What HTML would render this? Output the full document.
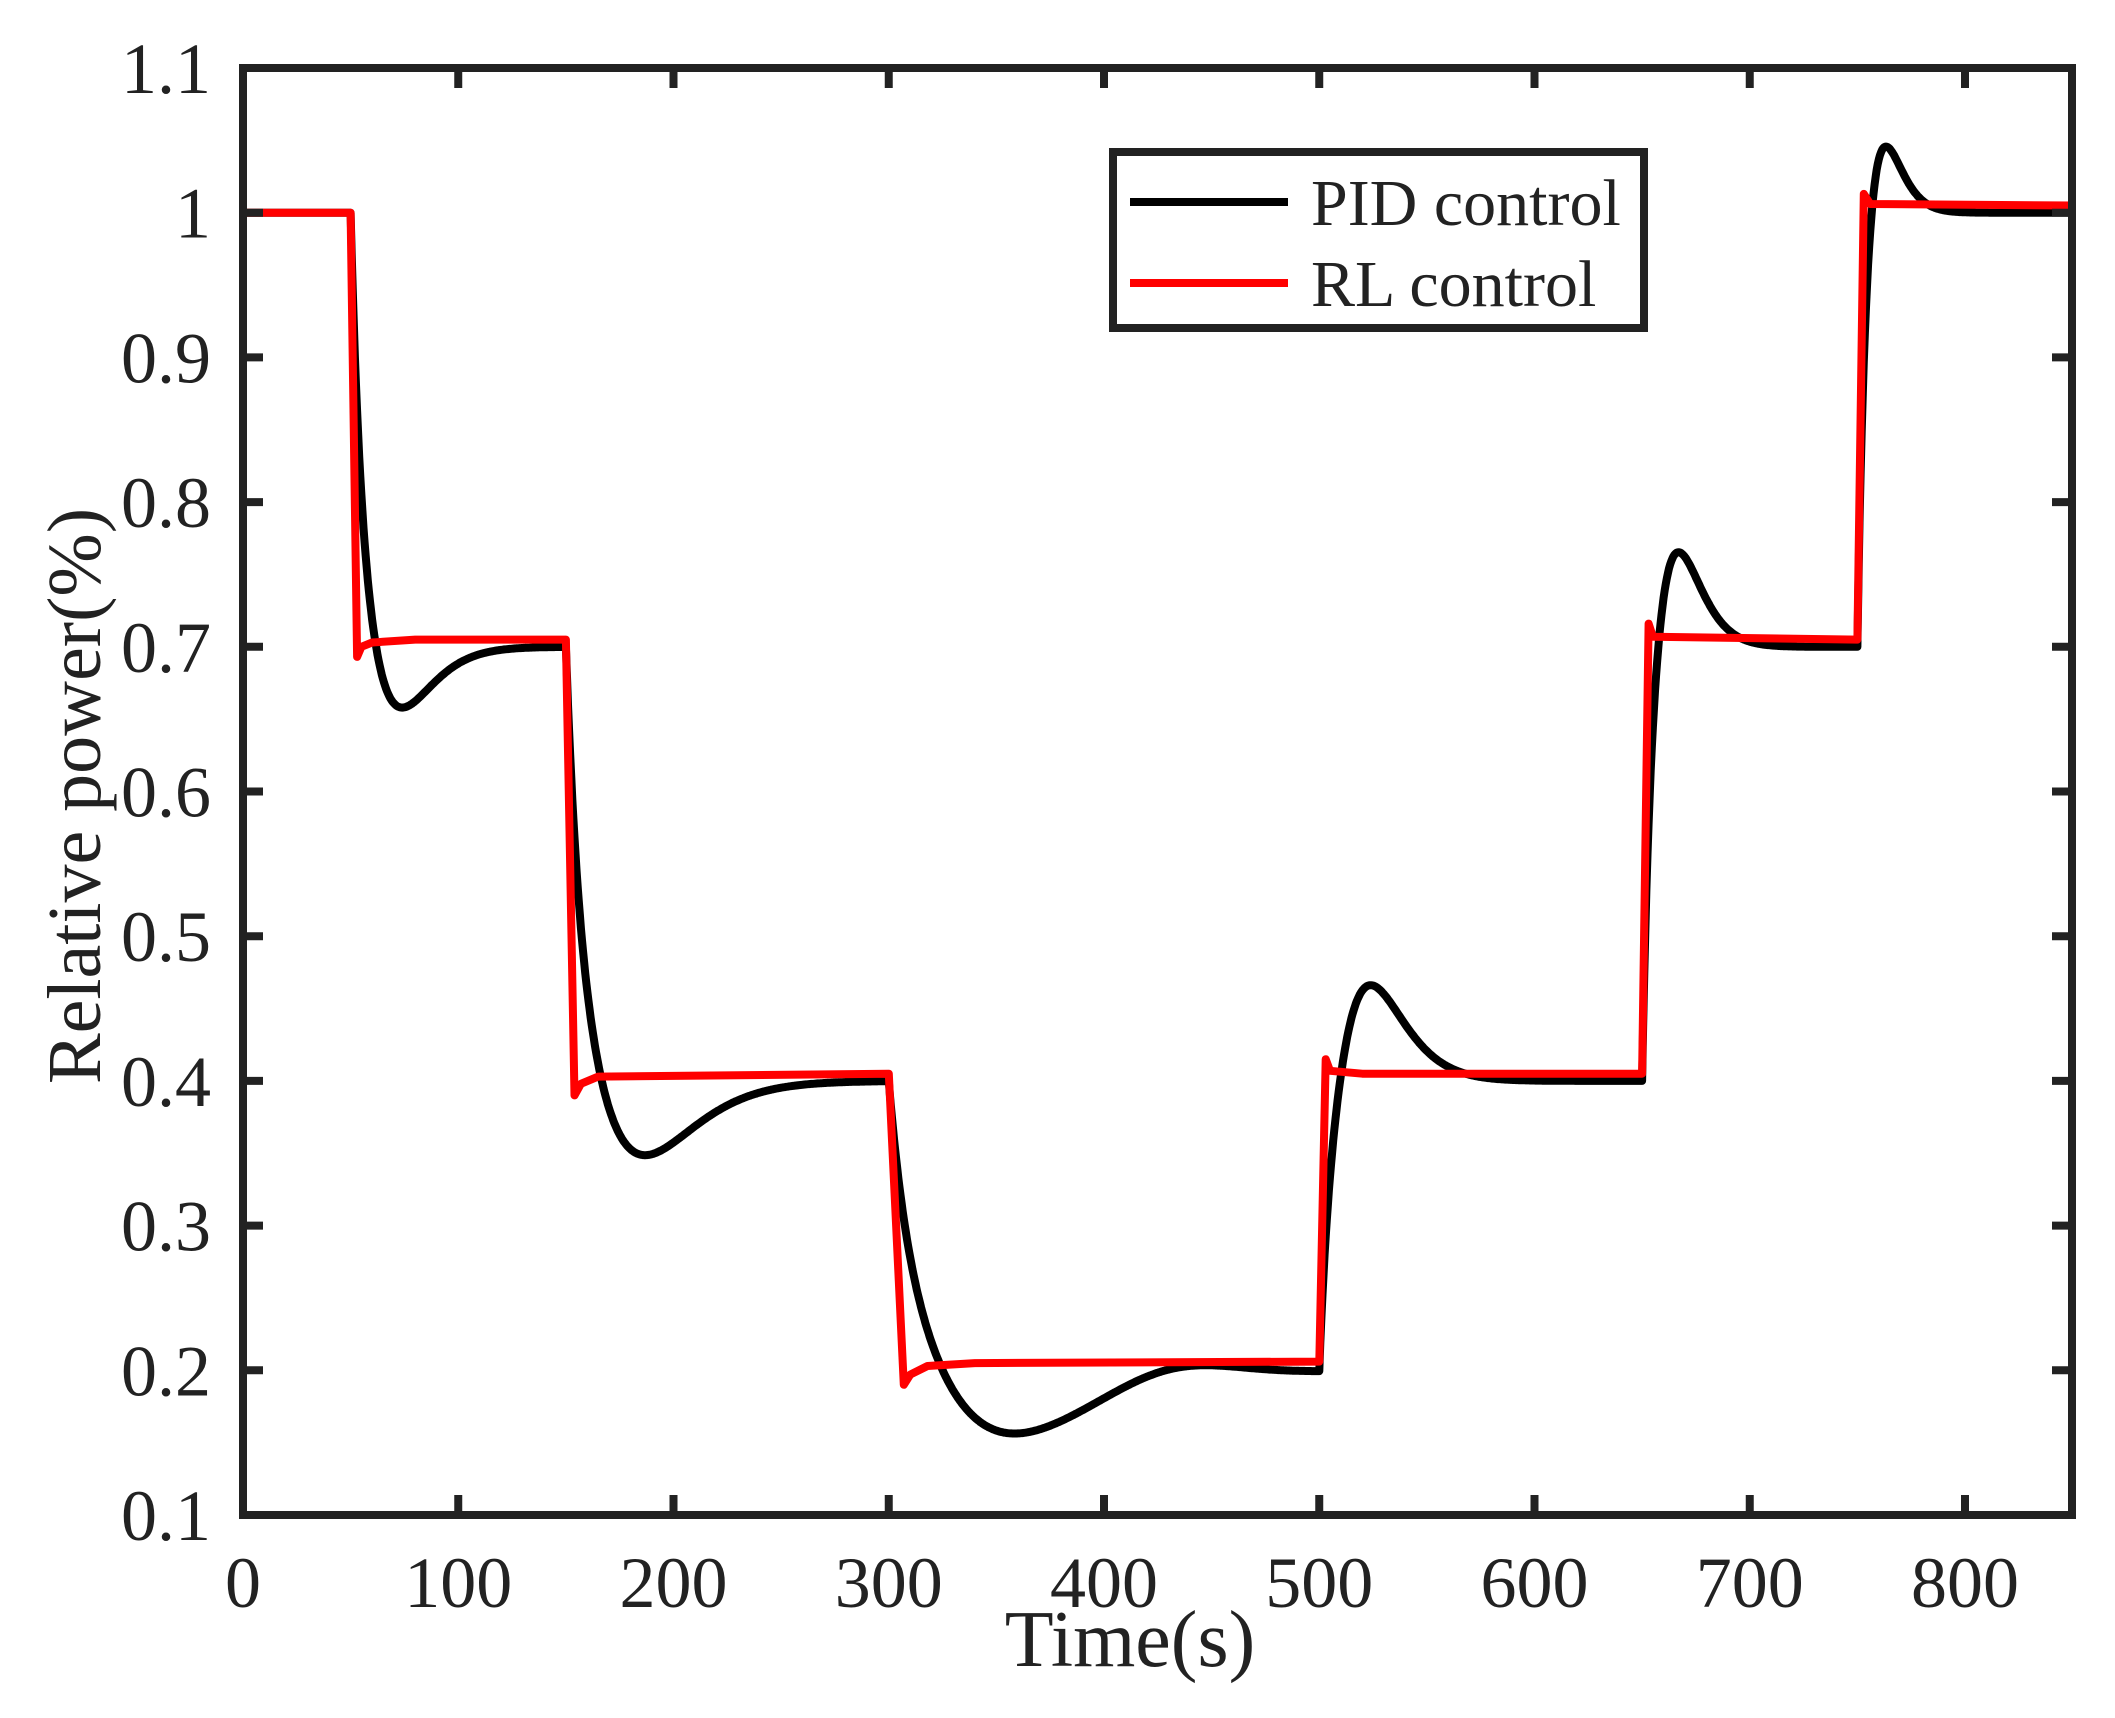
<!DOCTYPE html>
<html><head><meta charset="utf-8"><style>
html,body{margin:0;padding:0;background:#fff;}
svg{display:block;}
text{font-family:"Liberation Serif",serif;fill:#222;}
</style></head><body>
<svg id="s" width="2115" height="1718" viewBox="0 0 2115 1718" xmlns="http://www.w3.org/2000/svg">
<rect width="2115" height="1718" fill="#fff"/>
<g id="curves"></g>
<g id="axes"></g>
<text x="1130" y="1666" font-size="80" text-anchor="middle">Time(s)</text>
<text transform="translate(100,796) rotate(-90)" font-size="76" text-anchor="middle">Relative power(%)</text>
<rect x="1113" y="152" width="531" height="176" fill="#fff" stroke="#222" stroke-width="8"/>
<line x1="1130" y1="202" x2="1288" y2="202" stroke="#000" stroke-width="8"/>
<line x1="1130" y1="283" x2="1288" y2="283" stroke="#f00" stroke-width="8"/>
<text x="1311" y="225" font-size="66">PID control</text>
<text x="1311" y="306" font-size="66">RL control</text>
</svg>
<script>
var X=function(t){return 243+t*2.1525;}, Y=function(v){return 1515-(v-0.1)*1447;};
var ns="http://www.w3.org/2000/svg";
function el(tag,attrs,parent){var e=document.createElementNS(ns,tag);for(var k in attrs)e.setAttribute(k,attrs[k]);(parent||document.getElementById('s')).appendChild(e);return e;}
var ax=document.getElementById('axes'), cv=document.getElementById('curves');
for(var i=0;i<=8;i++){var x=X(i*100);
 el('line',{x1:x,y1:1515,x2:x,y2:1495,stroke:'#222','stroke-width':8},ax);
 el('line',{x1:x,y1:68,x2:x,y2:88,stroke:'#222','stroke-width':8},ax);
 var t=el('text',{x:x,y:1607,'font-size':72,'text-anchor':'middle'},ax);t.textContent=i*100;}
var yl=['0.1','0.2','0.3','0.4','0.5','0.6','0.7','0.8','0.9','1','1.1'];
for(var j=0;j<=10;j++){var y=Y(0.1+j*0.1);
 el('line',{x1:243,y1:y,x2:263,y2:y,stroke:'#222','stroke-width':8},ax);
 el('line',{x1:2072,y1:y,x2:2052,y2:y,stroke:'#222','stroke-width':8},ax);
 var t=el('text',{x:211,y:y+25,'font-size':72,'text-anchor':'end'},ax);t.textContent=yl[j];}
el('rect',{x:243,y:68,width:1829,height:1447,fill:'none',stroke:'#222','stroke-width':8},ax);
var segs=[[50,150,1.0,0.7,5,0.15,22],[150,300,0.7,0.4,7,0.177,35],[300,500,0.4,0.2,11,0.225,57],[500,650,0.2,0.4,5,0.34,23],[650,750,0.4,0.7,3.5,0.227,16],[750,850,0.7,1.0,3,0.167,12]];
function g(t,tb){var r=t/tb;return r*r*r*Math.exp(3*(1-r));}
function pid(t){if(t<50)return 1.0;for(var k=0;k<segs.length;k++){var s=segs[k];if(t>=s[0]&&t<=s[1]){var u=t-s[0];var d=s[2]-s[3];
 var v=s[3]+d*Math.exp(-u/s[4])-d*s[5]*g(u,s[6]);
 if(k==2){v+=0.012*Math.exp(-Math.pow((t-432)/38,2));}
 return v;}}return 1.0;}
var p=[];for(var t=0;t<=850;t+=0.5)p.push(X(t).toFixed(1)+','+Y(pid(t)).toFixed(1));
el('polyline',{points:p.join(' '),fill:'none',stroke:'#000','stroke-width':8,'stroke-linejoin':'round'},cv);
var rl=[[0,1.0],[50,1.0],[53,0.693],[55,0.70],[60,0.703],[80,0.705],[150,0.705],[154,0.39],[157,0.398],[165,0.403],[300,0.405],[307,0.19],[310,0.197],[318,0.203],[340,0.205],[500,0.206],[503,0.415],[505,0.407],[520,0.405],[650,0.405],[653,0.716],[655,0.707],[750,0.705],[753,1.013],[756,1.006],[850,1.005]];
el('polyline',{points:rl.map(function(a){return X(a[0]).toFixed(1)+','+Y(a[1]).toFixed(1);}).join(' '),fill:'none',stroke:'#f00','stroke-width':8,'stroke-linejoin':'round'},cv);
</script>
</body></html>
